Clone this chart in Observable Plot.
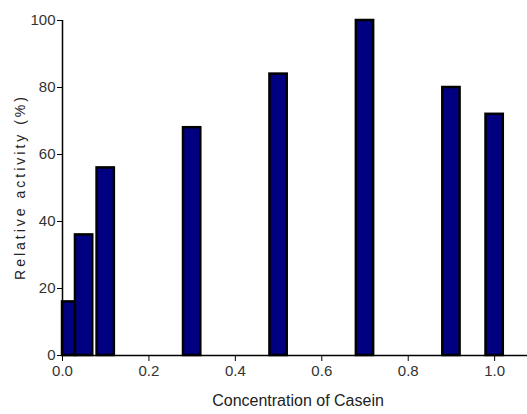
<!DOCTYPE html>
<html><head><meta charset="utf-8">
<script src="https://cdn.jsdelivr.net/npm/d3@7"></script>
<script src="https://cdn.jsdelivr.net/npm/@observablehq/plot@0.6"></script>
<style>body{margin:0;background:#fff}</style>
</head><body><div id="chart"></div>
<script>
const concentrations = [0.01, 0.05, 0.1, 0.3, 0.5, 0.7, 0.9, 1.0];
const activity = [16, 36, 56, 68, 84, 100, 80, 72];
const xTicks = [0, 0.2, 0.4, 0.6, 0.8, 1.0];
const yTicks = [0, 20, 40, 60, 80, 100];
const xTitle = "Concentration of Casein";
const yTitle = "Relative activity (%)";
const barHalfWidth = 0.02;
const data = concentrations.map((c, i) => ({c, v: activity[i]}));
const font = "'Liberation Sans Narrow', 'Arial Narrow', 'Liberation Sans', Arial, sans-serif";
const chart = Plot.plot({
  width: 527, height: 414,
  marginLeft: 62, marginRight: 0, marginTop: 20, marginBottom: 59,
  style: {fontFamily: font, fontSize: "15px", color: "#333", background: "#fff"},
  x: {domain: [0, 1.076], label: null},
  y: {domain: [0, 100], label: null},
  marks: [
    Plot.rectY(data, {x1: d => Math.max(0, d.c - barHalfWidth), x2: d => d.c + barHalfWidth, y1: 0, y2: "v",
      fill: "#000080", stroke: "#000", strokeWidth: 2.5}),
    Plot.ruleY([0], {stroke: "#000", strokeWidth: 1.5}),
    Plot.ruleX([0], {stroke: "#000", strokeWidth: 1.5}),
    Plot.axisX({ticks: xTicks, tickFormat: d3.format(".1f"), tickSize: 6, tickPadding: 4, label: null, stroke: "#000"}),
    Plot.axisY({ticks: yTicks, tickSize: 5, tickPadding: 2, label: null, stroke: "#000"}),
    Plot.text([xTitle], {frameAnchor: "bottom", dx: 3, dy: 50, text: d => d, fontSize: 16, fill: "#222"}),
    Plot.text([yTitle], {frameAnchor: "left", dx: -42, dy: -1, rotate: -90, text: d => d, fontSize: 14, fill: "#222", textAnchor: "middle"})
  ]
});
d3.select(chart).selectAll("text").filter(function() { return this.textContent === yTitle; })
  .style("letter-spacing", "3px");
document.getElementById("chart").append(chart);
</script>
</body></html>
